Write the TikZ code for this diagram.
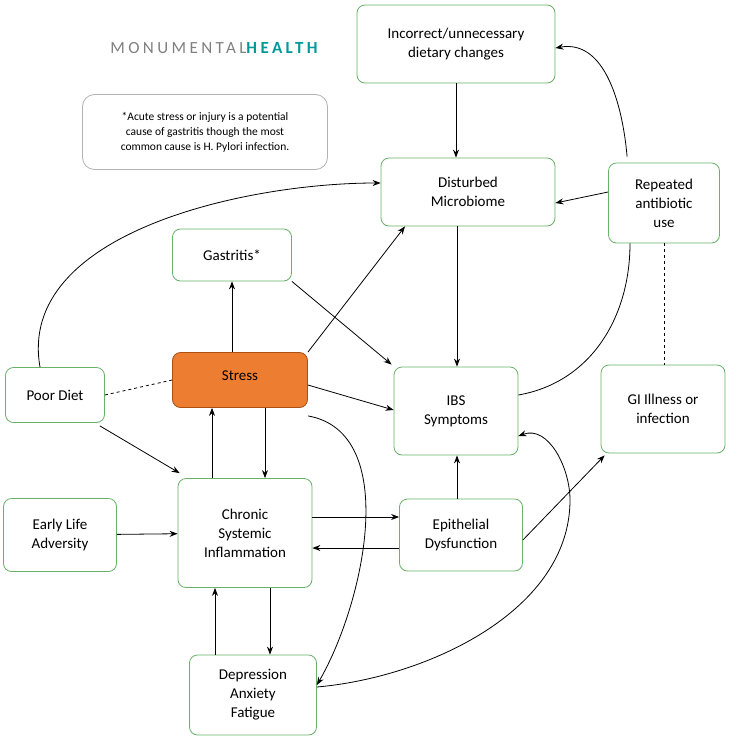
\documentclass[tikz,border=0pt]{standalone}
\usepackage{fontspec}
\setmainfont{Carlito}
\usetikzlibrary{arrows.meta}
\definecolor{stressfill}{RGB}{237,125,49}
\definecolor{stressdraw}{RGB}{170,80,20}
\begin{document}
\begin{tikzpicture}[x=1pt,y=-1pt,
 box/.style={draw=green!50!black!60,line width=0.8pt,rounded corners=8pt,fill=white,align=center,font=\fontsize{15}{19}\selectfont,inner sep=2pt},
 arr/.style={-{Stealth[length=8pt,width=6pt]},line width=0.8pt},
 ln/.style={line width=0.8pt}]
\useasboundingbox (0,0) rectangle (750,750);
\node[box,minimum width=198,minimum height=78] (inc) at (456,44) {Incorrect/unnecessary\\dietary changes};
\node[box,minimum width=174,minimum height=68] (dis) at (468,192) {Disturbed\\Microbiome};
\node[box,minimum width=111,minimum height=80] (rep) at (664,203) {Repeated\\antibiotic\\use};
\node[box,minimum width=119,minimum height=52] (gas) at (232,255) {Gastritis*};
\node[box,minimum width=135,minimum height=55,fill=stressfill,draw=stressdraw] (str) at (240,380) {\raisebox{8pt}{Stress}};
\node[box,minimum width=99,minimum height=55] (poor) at (55,395) {Poor Diet};
\node[box,minimum width=124,minimum height=88] (ibs) at (456,411) {IBS\\Symptoms};
\node[box,minimum width=124,minimum height=88] (gi) at (663,409) {GI Illness or\\infection};
\node[box,minimum width=113,minimum height=73] (early) at (60,535) {Early Life\\Adversity};
\node[box,minimum width=134,minimum height=109] (chr) at (245,533) {Chronic\\Systemic\\Inflammation};
\node[box,minimum width=123,minimum height=72] (epi) at (461,535) {Epithelial\\Dysfunction};
\node[box,minimum width=127,minimum height=80] (dep) at (253,695) {Depression\\Anxiety\\Fatigue};
\node[box,draw=gray!60,rounded corners=12pt,minimum width=245,minimum height=75,font=\fontsize{11.5}{15}\selectfont] (note) at (205,132) {*Acute stress or injury is a potential\\cause of gastritis though the most\\common cause is H. Pylori infection.};
\node[font=\fontsize{17}{17}\selectfont\addfontfeatures{LetterSpace=20}] (logo) at (214,48) {\textcolor{gray}{MONUMENTAL}\textcolor{teal!80!cyan}{\bfseries HEALTH}};
\draw[arr] (inc.south) -- (inc.south|-dis.north);
\draw[arr] (rep.west|-dis.east) -- (dis.east|-rep.west);
\draw[arr] (rep.north west)++(19,-6) coordinate (r1) to[out=95,in=10] ([yshift=-4pt]inc.east);
\draw[ln,dashed] (rep.south) -- (gi.north-|rep.south);
\draw[arr] ([xshift=457-468]dis.south) -- ([xshift=1]ibs.north);
\draw[arr] ([xshift=-15]poor.north) to[out=100,in=180,looseness=0.9] ([yshift=9]dis.west);
\draw[ln,dashed] (poor.east) -- (str.west);
\draw[arr] (poor.south east)++(-5,3) coordinate (p1) -- ([xshift=2,yshift=5]chr.north west);
\draw[arr] ([xshift=-8]str.north) -- ([xshift=0]gas.south);
\draw[arr] (str.north east) -- ([xshift=-63]dis.south);
\draw[arr] (gas.south east) -- ([xshift=-2,yshift=2]ibs.north west);
\draw[arr] ([yshift=-5]str.east) -- ([yshift=1]ibs.west);
\draw[arr] ([xshift=25]str.south) -- ([xshift=20]chr.north);
\draw[arr] ([xshift=-33]chr.north) -- ([xshift=-28]str.south);
\draw[arr] ([yshift=-8]str.south east) to[out=-10,in=60,looseness=0.9] ([yshift=10]dep.east);
\draw[arr] (early) -- (chr);
\draw[arr] ([yshift=16]chr.east) -- ([yshift=18]epi.west);
\draw[arr] ([yshift=-13]epi.west) -- ([yshift=-15]chr.east);
\draw[arr] ([xshift=-4]epi.north) -- ([xshift=1]ibs.south);
\draw[arr] ([yshift=-5]epi.east) -- ([xshift=4,yshift=-2]gi.south west);
\draw[arr] ([yshift=8]dep.east) to[out=5,in=-90,looseness=0.9] (570,500) to[out=90,in=20] ([yshift=-25]ibs.east);
\draw[ln] ([yshift=16]ibs.east) to[out=10,in=-90] ([xshift=-34]rep.south);
\draw[arr] ([xshift=-38]dep.north) -- ([xshift=-30]chr.south);
\draw[arr] ([xshift=25]chr.south) -- ([xshift=17]dep.north);
\end{tikzpicture}
\end{document}
